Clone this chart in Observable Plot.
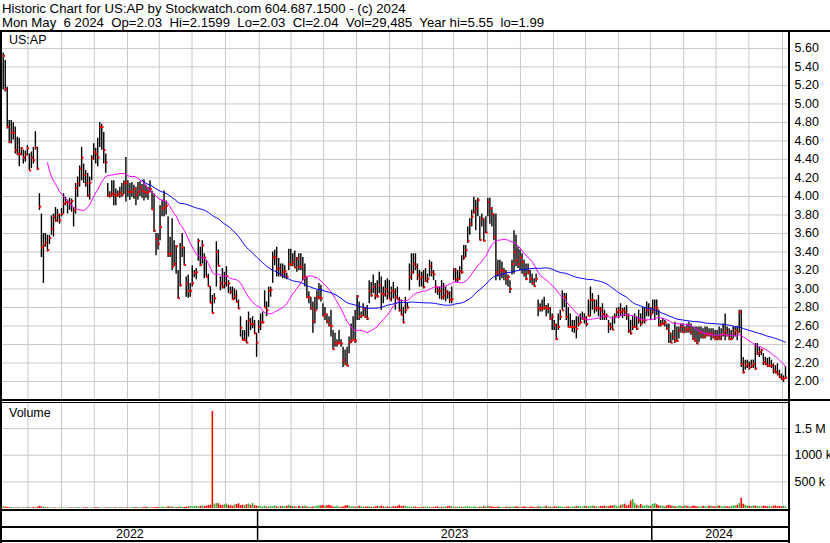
<!DOCTYPE html>
<html>
<head>
<meta charset="utf-8">
<script src="https://cdn.jsdelivr.net/npm/d3@7"></script>
<script src="https://cdn.jsdelivr.net/npm/@observablehq/plot@0.6"></script>
<style>
  html,body{margin:0;padding:0;background:#fff;}
  #wrap{position:relative;width:830px;height:543px;overflow:hidden;background:#fff;font-family:"Liberation Sans",Arial,sans-serif;color:#000;}
  .t{position:absolute;white-space:pre;line-height:1;color:#000;}
  .ln{position:absolute;background:#000;}
  .panel{position:absolute;left:0;}
  .panel svg{display:block;}
</style>
</head>
<body>
<div id="wrap"></div>
<script>
// ---- header texts ----
const headerLine1 = "Historic Chart for US:AP by Stockwatch.com 604.687.1500 - (c) 2024";
const headerLine2 = "Mon May  6 2024  Op=2.03  Hi=2.1599  Lo=2.03  Cl=2.04  Vol=29,485  Year hi=5.55  lo=1.99";
const symbolLabel = "US:AP";
const volumeLabel = "Volume";

// ---- daily bars (prices in cents), May 2022 -> May 6 2024 ----
const hi = [
555,547,518,482,482,480,475,464,463,453, 450,449,455,446,448,453,470,453,403,381,
360,360,358,358,379,381,388,386,381,387, 403,399,396,398,397,388,414,421,433,453,
435,428,425,421,444,457,452,463,480,478, 469,446,414,405,417,417,408,406,410,414,
417,442,417,414,415,412,410,415,416,413, 418,412,410,417,406,403,360,360,390,396,
406,395,378,356,376,352,347,320,349,360, 345,313,315,306,325,320,322,354,345,352,
338,331,316,302,293,295,351,342,313,322, 318,324,309,302,302,300,298,288,270,255,
255,266,275,268,270,266,252,266,273,275, 298,286,302,302,340,342,345,333,327,327,
325,317,343,343,338,341,334,338,338,334, 327,313,297,291,286,291,298,306,304,284,
280,273,270,277,255,252,245,255,245,237, 234,237,248,262,270,277,293,286,275,284,
280,282,309,307,315,306,309,318,313,302, 309,311,309,302,307,300,302,291,288,280,
291,285,327,338,338,338,327,320,318,320, 322,316,331,329,320,309,302,302,309,306,
302,298,297,302,322,322,320,324,336,347, 347,367,376,385,399,396,398,378,381,376,
378,398,398,388,381,381,331,331,329,322, 320,315,309,331,363,358,345,342,338,331,
327,327,320,316,311,316,288,284,288,291, 282,284,280,273,266,262,273,277,298,295,
295,280,273,266,266,270,270,273,275,273, 270,288,302,295,288,288,293,280,284,277,
273,266,263,270,273,279,280,284,279,280, 282,273,266,270,273,270,277,273,280,280,
286,284,280,288,288,288,277,266,268,266, 262,262,252,255,264,259,259,262,262,259,
262,264,262,259,259,259,259,259,257,259, 259,257,257,257,255,255,259,257,262,273,
259,257,255,259,259,259,277,277,226,223, 223,221,223,223,241,241,237,235,230,226,
225,226,223,219,217,219,212,208,206,216
];
const lo = [
515,513,473,457,457,461,446,444,432,444, 435,437,444,428,430,435,450,428,385,334,
306,345,340,348,358,356,372,372,370,378, 381,390,381,385,383,367,381,399,410,417,
414,410,399,396,417,439,435,432,453,450, 435,425,399,398,399,390,390,399,398,399,
402,394,399,396,399,397,390,396,400,398, 395,398,396,404,385,361,336,342,352,378,
378,380,334,334,320,324,316,289,302,334, 325,291,290,291,302,312,310,330,324,327,
311,313,302,284,273,284,302,324,298,300, 300,302,295,294,288,288,285,278,248,244,
243,241,248,255,257,251,226,252,255,262, 280,270,280,291,306,325,313,313,313,311,
311,310,320,324,324,322,318,320,320,309, 302,290,284,277,252,262,277,288,286,270,
266,262,259,248,234,237,237,240,237,215, 217,216,230,241,244,241,266,266,268,270,
268,266,284,291,295,288,290,295,277,284, 291,288,289,286,289,277,288,275,271,262,
273,278,298,309,316,320,309,302,302,300, 307,306,313,313,309,295,293,289,288,288,
286,289,284,284,309,307,307,309,316,331, 334,349,358,367,381,363,378,352,367,351,
360,378,370,367,352,309,313,309,311,309, 304,302,295,315,316,324,322,320,316,313,
309,315,306,304,302,307,270,275,275,277, 270,273,266,255,255,244,255,266,277,280,
266,258,258,253,252,246,259,262,266,262, 259,270,270,277,273,275,270,266,266,266,
266,252,255,255,262,270,268,270,268,270, 266,252,250,255,258,255,262,259,262,262,
270,270,266,273,266,271,259,259,261,259, 255,241,241,244,241,242,246,252,252,252,
252,252,250,244,242,240,242,246,246,246, 248,248,244,246,244,244,244,244,248,244,
248,244,244,246,248,244,252,215,208,212, 214,212,214,214,212,228,226,228,217,217,
215,215,214,208,208,206,203,201,199,203
];
const cl = [
552,516,475,459,469,469,450,446,446,452, 442,445,452,428,442,439,453,430,389,345,
347,350,342,355,365,378,374,380,374,381, 392,394,394,392,395,385,409,414,430,442,
423,414,401,415,441,448,446,442,475,475, 450,437,401,401,403,402,401,402,404,402,
414,415,405,405,405,408,402,405,410,406, 405,404,405,408,386,363,354,349,367,387,
388,390,338,338,324,327,346,290,304,345, 326,306,298,298,306,317,318,352,326,347,
334,313,303,285,274,290,340,325,306,302, 306,314,306,297,289,292,286,279,258,245,
245,242,266,262,262,252,242,259,264,264, 280,277,298,299,334,334,322,322,315,318,
319,313,327,326,329,323,333,324,324,313, 313,291,291,279,265,277,291,291,290,271,
273,265,261,260,235,241,241,242,241,223, 219,217,242,244,245,244,292,270,271,279,
270,268,298,293,302,293,292,304,295,294, 300,295,289,298,297,291,289,277,272,264,
277,280,313,318,327,324,315,311,313,302, 309,311,325,318,316,302,298,298,291,293,
297,295,288,289,320,310,311,319,318,334, 342,352,370,378,383,387,396,353,376,352,
361,394,387,381,356,318,316,320,320,318, 311,313,300,327,340,331,327,334,329,316,
311,318,311,306,303,311,279,279,279,280, 279,279,268,270,261,246,259,270,277,291,
270,259,259,259,259,257,262,264,268,268, 262,271,288,288,279,279,279,277,273,270,
271,262,259,256,270,275,277,275,277,275, 271,255,252,259,259,257,266,262,266,266,
277,279,273,277,280,279,261,262,262,264, 257,252,242,248,244,244,255,259,253,257,
255,257,253,246,244,241,252,253,248,250, 252,250,252,248,246,248,246,250,252,255,
250,246,246,252,255,253,275,219,210,217, 219,215,217,219,214,230,232,234,221,219,
217,217,217,212,210,208,205,203,203,204
];
// daily volume, thousands of shares
const volK = [
30,25,20,18,15,12,10,12,15,8, 10,12,18,14,10,20,15,25,40,30,
22,18,15,12,10,14,12,8,10,15, 12,10,8,12,15,10,12,18,14,10,
12,15,10,8,12,10,14,16,12,10, 8,10,12,15,10,8,12,10,14,12,
10,12,15,10,12,18,20,14,12,15, 18,25,20,15,12,16,20,18,15,22,
25,20,35,28,22,18,20,25,30,22, 18,25,30,40,28,35,45,30,40,50,
35,45,55,60,1820,80,95,90,60,55, 70,85,60,50,45,65,75,90,55,60,
50,70,85,60,95,55,45,40,35,30, 45,25,30,40,35,50,30,25,35,40,
30,45,60,40,35,30,25,40,30,35, 45,30,25,20,30,35,40,50,45,55,
40,50,60,45,30,35,40,30,25,30, 45,55,40,30,35,25,30,40,35,30,
25,30,35,20,25,30,40,35,45,30, 25,30,20,25,35,30,40,60,35,45,
40,30,25,20,30,25,20,15,25,20, 30,25,20,15,20,25,30,20,25,20,
30,35,40,30,25,20,25,30,20,25, 35,30,25,20,30,25,20,25,30,35,
25,40,35,30,25,20,30,25,20,15, 25,30,20,25,30,35,25,20,25,30,
25,20,30,25,20,25,30,35,25,30, 40,30,25,20,30,25,35,30,25,20,
25,30,20,25,30,35,40,30,25,45, 35,30,40,50,35,30,25,40,35,45,
40,35,50,45,60,40,35,55,70,80, 50,60,140,170,95,60,45,75,50,40,
60,45,35,80,90,70,50,45,40,35, 50,60,45,40,35,30,45,40,35,50,
40,35,30,45,40,35,30,25,40,35, 30,45,40,35,30,40,45,35,30,40,
35,30,40,45,50,60,90,190,80,60, 45,40,35,50,45,40,35,30,45,40,
35,40,30,45,50,35,40,30,45,30
];

// ---- axes / ticks ----
const priceTicks = [2.0,2.2,2.4,2.6,2.8,3.0,3.2,3.4,3.6,3.8,4.0,4.2,4.4,4.6,4.8,5.0,5.2,5.4,5.6];
const volTicks = [500000, 1000000, 1500000];
const volTickLabels = ["500 k", "1000 k", "1.5 M"];
const gridBars = [12.3,29.0,45.3,61.8,77.6,93.9,110.5,127.3,143.1,159.3,175.7,192.1,208.4,223.9,240.8,257.2,273.6,289.6,306.0,321.9,338.4,354.5,370.8,387.5];
const yearLabels = ["2022", "2023", "2024"];
const yearStart = [0, 127, 323];
const maShort = 23, maLong = 70;

// ---- build ----
const N = hi.length;
const bars = hi.map((h, i) => ({
  i, h: h / 100, l: lo[i] / 100, c: cl[i] / 100, v: volK[i] * 1000,
  up: i === 0 || cl[i] >= cl[i - 1]
}));
const xDomain = [-0.35, N + 0.5];
const font = '"Liberation Sans", Arial, sans-serif';
const grid = "#c8c8c8";

const wrap = document.getElementById("wrap");
function addText(txt, left, top, size) {
  const d = document.createElement("div");
  d.className = "t"; d.textContent = txt;
  d.style.left = left + "px"; d.style.top = top + "px"; d.style.fontSize = size + "px";
  wrap.appendChild(d);
}
function addPanel(svg, top) {
  const d = document.createElement("div");
  d.className = "panel"; d.style.top = top + "px";
  d.appendChild(svg); wrap.appendChild(d);
}
function addLine(left, top, w, h) {
  const d = document.createElement("div");
  d.className = "ln";
  Object.assign(d.style, {left: left + "px", top: top + "px", width: w + "px", height: h + "px"});
  wrap.appendChild(d);
}

const price = Plot.plot({
  width: 830, height: 370,
  marginLeft: 2, marginRight: 42, marginTop: 1, marginBottom: 1,
  style: {fontFamily: font, fontSize: "12.5px", color: "#000", background: "none"},
  x: {domain: xDomain, axis: null},
  y: {domain: [1.805, 5.783], axis: "right", ticks: priceTicks, tickFormat: d => d.toFixed(2), tickSize: 0, tickPadding: 6, label: null},
  marks: [
    Plot.ruleY(priceTicks, {stroke: grid}),
    Plot.ruleX(gridBars, {stroke: grid}),
    Plot.ruleX(bars, {x: "i", y1: "l", y2: "h", stroke: "#000", strokeWidth: 1.4}),
    Plot.dot(bars, {x: "i", y: "c", dx: 0.8, symbol: "square", r: 1.15, fill: "#ff0000"}),
    Plot.lineY(bars, Plot.windowY({k: maShort, anchor: "end", strict: true}, {x: "i", y: "c", stroke: "#ff00ff", strokeWidth: 1})),
    Plot.lineY(bars, Plot.windowY({k: maLong, anchor: "end", strict: true}, {x: "i", y: "c", stroke: "#0000ff", strokeWidth: 1}))
  ]
});

const volume = Plot.plot({
  width: 830, height: 110,
  marginLeft: 2, marginRight: 42, marginTop: 2, marginBottom: 2,
  style: {fontFamily: font, fontSize: "12.5px", color: "#000", background: "none"},
  x: {domain: xDomain, axis: null},
  y: {domain: [0, 1.99e6], axis: "right", ticks: volTicks, tickFormat: d => volTickLabels[volTicks.indexOf(d)], tickSize: 0, tickPadding: 6, label: null},
  marks: [
    Plot.ruleY(volTicks, {stroke: grid}),
    Plot.ruleX(gridBars, {stroke: grid}),
    Plot.ruleX(bars, {filter: d => d.up, x: "i", y1: 0, y2: "v", stroke: "#33b033", strokeWidth: 1.6}),
    Plot.ruleX(bars, {filter: d => !d.up, x: "i", y1: 0, y2: "v", stroke: "#ff0000", strokeWidth: 1.6})
  ]
});

const yearSegs = yearLabels.map((label, k) => {
  const a = yearStart[k] - 0.5;
  const b = (k + 1 < yearStart.length ? yearStart[k + 1] : N) - 0.5;
  return {label, mid: (a + b) / 2};
});
const yearBounds = yearStart.slice(1).map(s => s - 0.5);
const years = Plot.plot({
  width: 830, height: 30,
  marginLeft: 2, marginRight: 42, marginTop: 0, marginBottom: 0,
  style: {fontFamily: font, fontSize: "12.5px", color: "#000", background: "none"},
  x: {domain: xDomain, axis: null},
  y: {domain: [0, 1], axis: null},
  marks: [
    Plot.ruleX(yearBounds, {y1: 0, y2: 1, stroke: "#000", strokeWidth: 1.5}),
    Plot.text(yearSegs, {x: "mid", y: 0.24, text: "label", fill: "#000", fontSize: 12.5})
  ]
});

addText(headerLine1, 2, 2.4, 13.2);
addText(headerLine2, 2, 15.8, 13.2);
addPanel(price, 30);
addPanel(volume, 400);
addPanel(years, 511);
addText(symbolLabel, 9, 34.4, 12.5);
addText(volumeLabel, 9, 407.4, 12.5);
// frame lines
addLine(0, 30, 830, 2);
addLine(0, 30, 2, 513);
addLine(788, 30, 2, 513);
addLine(0, 399, 830, 2);
addLine(0, 402, 790, 1);
addLine(0, 509, 790, 2);
addLine(0, 526, 790, 2);
addLine(0, 540, 790, 2);
</script>
</body>
</html>
